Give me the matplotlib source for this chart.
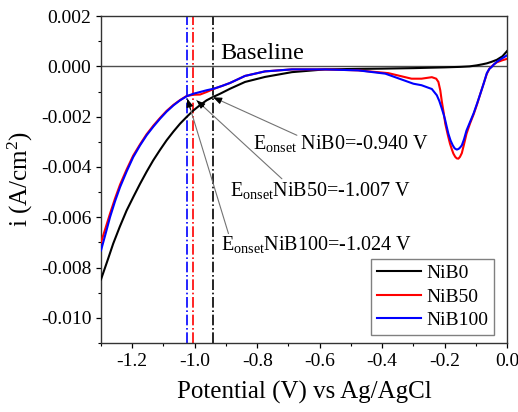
import matplotlib
matplotlib.use('Agg')
from matplotlib import pyplot as plt
from matplotlib.ticker import MultipleLocator, FormatStrFormatter

plt.rcParams['font.family'] = ['Liberation Serif', 'DejaVu Serif']
plt.rcParams['mathtext.fontset'] = 'custom'
plt.rcParams['mathtext.rm'] = 'Liberation Serif'
plt.rcParams['mathtext.it'] = 'Liberation Serif:italic'
plt.rcParams['axes.unicode_minus'] = False

# NiB0 (black)
v_nib0 = [-1.30, -1.28, -1.261, -1.24, -1.218, -1.196, -1.175, -1.154, -1.133,
          -1.111, -1.090, -1.068, -1.047, -1.025, -1.004, -0.983, -0.962, -0.940,
          -0.919, -0.887, -0.839, -0.775, -0.689, -0.583, -0.477, -0.40, -0.30,
          -0.20, -0.15, -0.12, -0.097, -0.080, -0.065, -0.050, -0.033, -0.015, 0.0]
i_nib0 = [-0.00847, -0.00775, -0.00705, -0.00638, -0.00573, -0.00518, -0.00467,
          -0.00419, -0.00374, -0.00332, -0.00294, -0.00259, -0.00228, -0.00200,
          -0.00175, -0.00154, -0.00135, -0.00121, -0.00109, -0.00089, -0.00062,
          -0.00042, -0.00023, -0.00012, -0.00010, -0.00009, -0.00007, -0.00004,
          -0.00002, 0.0, 0.00004, 0.00008, 0.00012, 0.00018, 0.00026, 0.00040,
          0.00061]

# NiB50 (red)
v_nib50 = [-1.30, -1.285, -1.271, -1.255, -1.239, -1.218, -1.197, -1.175, -1.154,
           -1.132, -1.111, -1.090, -1.068, -1.047, -1.026, -1.005, -0.983, -0.962,
           -0.940, -0.913, -0.887, -0.839, -0.775, -0.689, -0.583, -0.476, -0.38,
           -0.306, -0.274, -0.241, -0.227, -0.220, -0.214, -0.209, -0.203, -0.198,
           -0.190, -0.183, -0.177, -0.172, -0.166, -0.161, -0.156, -0.151, -0.145,
           -0.138, -0.130, -0.119, -0.107, -0.096, -0.086, -0.075, -0.065, -0.057,
           -0.050, -0.042, -0.033, -0.016, 0.0]
i_nib50 = [-0.00700, -0.00641, -0.00585, -0.00525, -0.00470, -0.00410, -0.00355,
           -0.00310, -0.00270, -0.00235, -0.00205, -0.00177, -0.00153, -0.00134,
           -0.00118, -0.00113, -0.00112, -0.00102, -0.00090, -0.00078, -0.00066,
           -0.00038, -0.00020, -0.00012, -0.00012, -0.00016, -0.00027, -0.00049,
           -0.00049, -0.00043, -0.00049, -0.00062, -0.00095, -0.00140, -0.00185,
           -0.00228, -0.00272, -0.00307, -0.00330, -0.00347, -0.00360, -0.00366,
           -0.00367, -0.00360, -0.00345, -0.00310, -0.00268, -0.00228, -0.00190,
           -0.00150, -0.00110, -0.00068, -0.00030, -0.00010, -0.00001, 0.00008,
           0.00016, 0.00024, 0.00030]

# NiB100 (blue)
v_nib100 = [-1.30, -1.285, -1.271, -1.255, -1.239, -1.218, -1.197, -1.175, -1.154,
            -1.132, -1.111, -1.090, -1.068, -1.047, -1.026, -1.005, -0.983, -0.962,
            -0.940, -0.913, -0.887, -0.839, -0.775, -0.689, -0.583, -0.476, -0.39,
            -0.30, -0.274, -0.241, -0.225, -0.217, -0.209, -0.203, -0.198, -0.193,
            -0.188, -0.181, -0.174, -0.168, -0.161, -0.155, -0.150, -0.145, -0.138,
            -0.130, -0.119, -0.107, -0.096, -0.086, -0.075, -0.065, -0.057, -0.050,
            -0.042, -0.033, -0.016, 0.0]
i_nib100 = [-0.00732, -0.00664, -0.00599, -0.00536, -0.00480, -0.00418, -0.00361,
            -0.00314, -0.00274, -0.00239, -0.00208, -0.00180, -0.00155, -0.00135,
            -0.00119, -0.00109, -0.00102, -0.00095, -0.00089, -0.00078, -0.00066,
            -0.00038, -0.00020, -0.00012, -0.00012, -0.00016, -0.00029, -0.00069,
            -0.00075, -0.00090, -0.00115, -0.00138, -0.00168, -0.00192, -0.00215,
            -0.00242, -0.00268, -0.00295, -0.00314, -0.00326, -0.00331, -0.00328,
            -0.00322, -0.00314, -0.00290, -0.00255, -0.00222, -0.00186, -0.00147,
            -0.00110, -0.00068, -0.00027, -0.00010, -0.00003, 0.00008, 0.00018,
            0.00032, 0.00044]

onset = [-0.940, -1.007, -1.024]
onset_colors = ['black', 'red', 'blue']
onset_labels = [r'E$_{\mathrm{onset}}$ NiB0=-0.940 V',
                r'E$_{\mathrm{onset}}$NiB50=-1.007 V',
                r'E$_{\mathrm{onset}}$NiB100=-1.024 V']
label_pos = [(-0.813, -0.0033), (-0.887, -0.00517), (-0.917, -0.00732)]
arrow_start = [(-0.673, -0.00274), (-0.721, -0.00447), (-0.892, -0.00665)]
arrow_end = [(-0.941, -0.00123), (-0.994, -0.00135), (-1.024, -0.00128)]

fig = plt.figure(figsize=(5.18, 4.12), dpi=100)
ax = fig.add_axes([0.195, 0.1675, 0.784, 0.7935])

ax.axhline(0, color='0.3', lw=1.0, zorder=1)
for x, c in zip(onset, onset_colors):
    ax.axvline(x, color=c, lw=1.2, ls='-.', zorder=1)

ax.plot(v_nib0, i_nib0, color='black', lw=1.5, label='NiB0', zorder=3)
ax.plot(v_nib50, i_nib50, color='red', lw=1.5, label='NiB50', zorder=3)
ax.plot(v_nib100, i_nib100, color='blue', lw=1.5, label='NiB100', zorder=4)

ax.text(-0.919, 0.00031, 'Baseline', fontsize=17.5, ha='left', va='baseline')

for lab, pos, st, en in zip(onset_labels, label_pos, arrow_start, arrow_end):
    ax.text(pos[0], pos[1], lab, fontsize=14.5, ha='left', va='baseline')
    # grey line with a small black head
    ax.annotate('', xy=en, xytext=st,
                arrowprops=dict(arrowstyle='-', color='0.45', lw=0.8,
                                shrinkA=0, shrinkB=0))
    hx = en[0] + (st[0] - en[0]) * 0.08
    hy = en[1] + (st[1] - en[1]) * 0.08
    ax.annotate('', xy=en, xytext=(hx, hy),
                arrowprops=dict(arrowstyle='-|>,head_length=0.5,head_width=0.2',
                                color='black', lw=0.8, shrinkA=0, shrinkB=0))

ax.set_xlim(-1.3, 0.0)
ax.set_ylim(-0.011, 0.002)
ax.xaxis.set_major_locator(MultipleLocator(0.2))
ax.xaxis.set_minor_locator(MultipleLocator(0.1))
ax.yaxis.set_major_locator(MultipleLocator(0.002))
ax.yaxis.set_minor_locator(MultipleLocator(0.001))
ax.xaxis.set_major_formatter(FormatStrFormatter('%.1f'))
ax.yaxis.set_major_formatter(FormatStrFormatter('%.3f'))
ax.tick_params(which='major', direction='out', length=3.5, width=0.9, labelsize=14)
ax.tick_params(which='minor', direction='out', length=2, width=0.8)
for s in ax.spines.values():
    s.set_linewidth(1.0)
    s.set_color('0.2')

ax.set_xlabel('Potential (V) vs Ag/AgCl', fontsize=18, labelpad=8)
ax.set_ylabel('i (A/cm$^2$)', fontsize=18, labelpad=4)

ax.legend(loc='lower right', bbox_to_anchor=(0.968, 0.0245), fontsize=14,
          frameon=True, fancybox=False, edgecolor='0.5', framealpha=1,
          borderpad=0.3, labelspacing=0.3, handlelength=2.3,
          handletextpad=0.25, borderaxespad=0)

plt.savefig('out.png', dpi=100)
